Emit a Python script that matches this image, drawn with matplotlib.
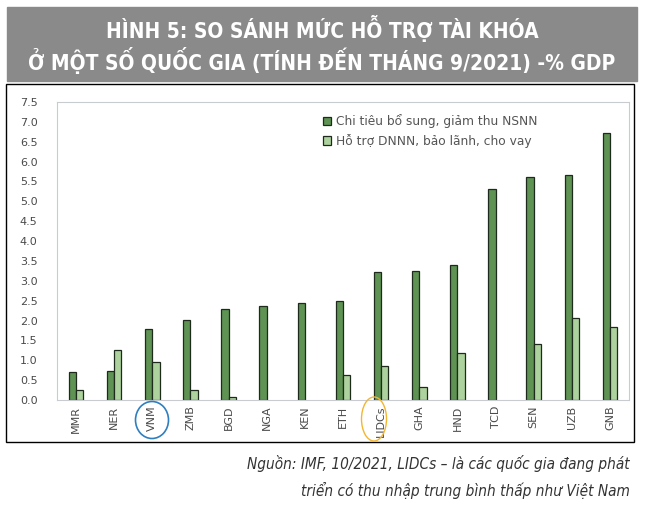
import numpy as np
import matplotlib.pyplot as plt
from matplotlib.patches import Ellipse, Rectangle

# du lieu doc tu hinh
countries = ['MMR', 'NER', 'VNM', 'ZMB', 'BGD', 'NGA', 'KEN', 'ETH', 'LIDCs',
             'GHA', 'HND', 'TCD', 'SEN', 'UZB', 'GNB']
chi_tieu = [0.71, 0.73, 1.78, 2.01, 2.30, 2.36, 2.44, 2.50, 3.21,
            3.25, 3.40, 5.31, 5.61, 5.67, 6.72]
ho_tro = [0.25, 1.25, 0.95, 0.24, 0.08, 0.0, 0.0, 0.63, 0.86,
          0.32, 1.18, 0.0, 1.40, 2.06, 1.83]
yticks = np.arange(0, 7.51, 0.5)

W, H = 652, 518
fig = plt.figure(figsize=(W / 100, H / 100), dpi=100)

# khung tieu de xam
fig.patches.append(Rectangle((7 / W, 1 - 81 / H), 630 / W, 74 / H,
                             transform=fig.transFigure, color='#8a8a8a', zorder=0))
title_font = dict(color='white', fontsize=15, fontweight='bold', ha='center',
                  va='center', family=['DejaVu Sans'], stretch='condensed')
fig.text(322 / W, 1 - 28 / H, 'HÌNH 5: SO SÁNH MỨC HỖ TRỢ TÀI KHÓA', **title_font)
fig.text(322 / W, 1 - 60 / H, 'Ở MỘT SỐ QUỐC GIA (TÍNH ĐẾN THÁNG 9/2021) -% GDP', **title_font)

# khung vien den
fig.patches.append(Rectangle((6 / W, 1 - 442 / H), 628 / W, 358 / H,
                             transform=fig.transFigure, fill=False,
                             edgecolor='black', linewidth=1.0, zorder=0))

ax = fig.add_axes([57 / W, 1 - 400 / H, 572 / W, 298 / H])
x = np.arange(len(countries))
w = 0.19
ax.bar(x - w / 2, chi_tieu, w, color='#5e9353', edgecolor='#1e2a1c', linewidth=0.9,
       label='Chi tiêu bổ sung, giảm thu NSNN')
bars2 = ax.bar(x + w / 2, ho_tro, w, color='#aed29d', edgecolor='#1e2a1c', linewidth=0.9,
               label='Hỗ trợ DNNN, bảo lãnh, cho vay')
# cot bang 0 thi khong ve vien
for b, v in zip(bars2, ho_tro):
    if v == 0:
        b.set_linewidth(0)

ax.set_xlim(-0.5, len(countries) - 0.5)
ax.set_ylim(0, 7.5)
ax.set_yticks(yticks)
ax.set_yticklabels([f'{v:.1f}' for v in yticks])
ax.set_xticks(x)
ax.set_xticklabels(countries, rotation=90)
ax.tick_params(length=0, labelsize=8, colors='#4a4a4a', pad=4)
ax.tick_params(axis='y', pad=14)
for s in ax.spines.values():
    s.set_color('#c8ccd0')
    s.set_linewidth(0.8)

ax.legend(loc='upper left', bbox_to_anchor=(0.445, 0.995), frameon=False,
          fontsize=8.8, labelcolor='#555555', handlelength=0.7, handleheight=0.7,
          handletextpad=0.4, labelspacing=0.45)

# vong tron danh dau VNM va LIDCs
fig.patches.append(Ellipse((152 / W, 1 - 420 / H), 33 / W, 37 / H,
                           transform=fig.transFigure, fill=False,
                           edgecolor='#2f7fc0', linewidth=1.2))
fig.patches.append(Ellipse((374 / W, 1 - 419 / H), 25 / W, 44 / H,
                           transform=fig.transFigure, fill=False,
                           edgecolor='#f2b632', linewidth=1.0))

# nguon
src_font = dict(fontsize=11, style='italic', ha='right', va='center', color='#333333',
                family=['DejaVu Sans'], stretch='condensed')
fig.text(630 / W, 1 - 463 / H, 'Nguồn: IMF, 10/2021, LIDCs – là các quốc gia đang phát', **src_font)
fig.text(630 / W, 1 - 490 / H, 'triển có thu nhập trung bình thấp như Việt Nam', **src_font)

fig.savefig('out.png', dpi=100)
